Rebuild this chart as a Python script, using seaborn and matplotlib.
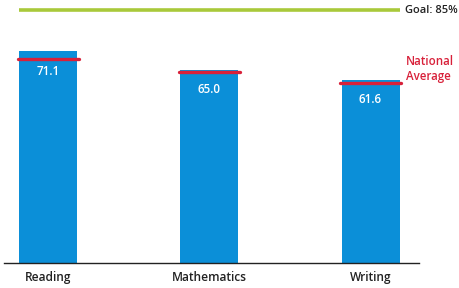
import matplotlib
matplotlib.use("Agg")
import matplotlib.pyplot as plt
import seaborn as sns
import pandas as pd

subjects = ["Reading", "Mathematics", "Writing"]
scores = [71.1, 65.0, 61.6]
national_avg = [68.5, 64.3, 60.6]
goal = 85
value_labels = ["71.1", "65.0", "61.6"]

BLUE = "#0b8fd8"
RED = "#d8213a"
GREEN = "#a9c93a"

sns.set_theme(style="white")
plt.rcParams["font.family"] = ["Open Sans", "DejaVu Sans"]

df = pd.DataFrame({"subject": subjects, "score": scores})

fig = plt.figure(figsize=(4.59, 2.88), dpi=100)
W, H = 459, 288
ax = fig.add_axes([4 / W, 25 / H, 415 / W, 263 / H])

sns.barplot(data=df, x="subject", y="score", color=BLUE, width=0.36,
            saturation=1, linewidth=0, ax=ax)

ax.set_xlim(-0.276, 2.301)
ax.set_ylim(0, 88.4)

# goal line
ax.hlines(goal, -0.183, 2.183, color=GREEN, lw=2.6, zorder=3)
ax.text(2.212, goal, "Goal: 85%", ha="left", va="center", fontsize=8.0,
        fontweight="semibold", color="#222222", clip_on=False)

# national average markers
for i, v in enumerate(national_avg):
    ax.hlines(v, i - 0.19, i + 0.19, color=RED, lw=2.4, zorder=4,
              capstyle="round")
    ax.text(i, scores[i] - 6.8, value_labels[i], ha="center", va="center",
            color="white", fontsize=8.4, fontweight="semibold")

ax.text(2.22, national_avg[2] + 4.6, "National\nAverage", ha="left",
        va="center", color=RED, fontsize=8.3, fontweight="semibold",
        linespacing=1.15, clip_on=False)

for s in ["top", "right", "left"]:
    ax.spines[s].set_visible(False)
ax.spines["bottom"].set_color("#222222")
ax.spines["bottom"].set_linewidth(1.0)
ax.set_yticks([])
ax.set_xlabel("")
ax.set_ylabel("")
ax.tick_params(axis="x", length=0, pad=6, labelsize=8.6, labelcolor="#222222")
for t in ax.get_xticklabels():
    t.set_fontweight("semibold")

fig.savefig("out.png", dpi=100)
